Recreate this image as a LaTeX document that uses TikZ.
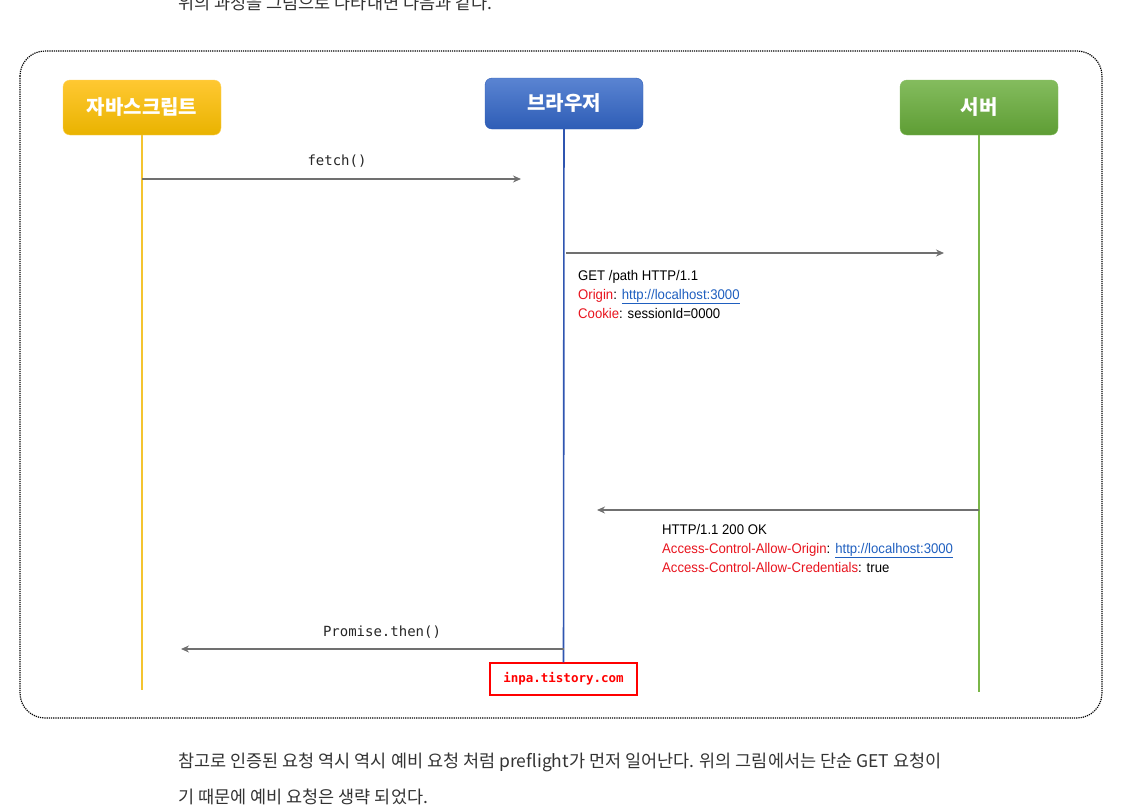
\documentclass[tikz,border=0pt]{standalone}
\usepackage{fontspec}
\setmainfont{Noto Sans CJK KR}
\setmonofont{DejaVu Sans Mono}
\newfontfamily\krfont{Noto Sans CJK KR}
\newfontfamily\labelfont{Liberation Sans}[FakeStretch=0.94]
\usepackage{tikz}
\usetikzlibrary{positioning, calc, arrows.meta}

\definecolor{jsTop}{HTML}{FFC832}
\definecolor{jsBot}{HTML}{E9B300}
\definecolor{brTop}{HTML}{5A84D2}
\definecolor{brBot}{HTML}{2E5DB6}
\definecolor{svTop}{HTML}{84BC5E}
\definecolor{svBot}{HTML}{5E9D34}
\definecolor{jsLine}{HTML}{F4C430}
\definecolor{brLine}{HTML}{2F55B0}
\definecolor{svLine}{HTML}{7AB648}
\definecolor{arrowgray}{HTML}{707070}
\definecolor{hdrred}{HTML}{E8141E}
\definecolor{linkblue}{HTML}{1F5FBF}
\definecolor{bodytext}{HTML}{333333}

\newcommand{\hname}[1]{\textcolor{hdrred}{#1}}
\newcommand{\hlink}[1]{\textcolor{linkblue}{\underline{#1}}}

\begin{document}
\begin{tikzpicture}[x=1pt, y=-1pt,
        actor/.style={rectangle, rounded corners=7pt, minimum width=158pt, minimum height=55pt, text=white, font=\fontsize{20}{24}\selectfont\bfseries},
        life/.style={line width=1.6pt},
        msg/.style={->, >={Stealth[length=8pt, width=7pt]}, draw=arrowgray, line width=1.6pt},
        codelabel/.style={font=\ttfamily\fontsize{14}{16}\selectfont, text=black!85},
        hdr/.style={font=\labelfont\fontsize{14}{19}\selectfont, align=left, anchor=north west, inner sep=0pt},
        para/.style={font=\krfont\fontsize{17.5}{20}\selectfont, text=bodytext, anchor=west, inner sep=0pt}
    ]
        \useasboundingbox (0,0) rectangle (1144,807);

        % Text around the figure
        \node[para] (intro) at (178,3) {위의 과정을 그림으로 나타내면 다음과 같다.};
        \node[para] (note1) at (178,762) {참고로 인증된 요청 역시 역시 예비 요청 처럼 preflight가 먼저 일어난다. 위의 그림에서는 단순 GET 요청이};
        \node[para] (note2) at (178,797) {기 때문에 예비 요청은 생략 되었다.};

        % Frame
        \draw[densely dotted, line width=1.2pt, rounded corners=25pt] (20,51) rectangle (1102,718);

        % Actors
        \node[actor, top color=jsTop, bottom color=jsBot, draw=jsTop!80] (js) at (142,107.5) {자바스크립트};
        \node[actor, top color=brTop, bottom color=brBot, draw=brBot, minimum height=51pt] (browser) at (564,103.5) {브라우저};
        \node[actor, top color=svTop, bottom color=svBot, draw=svTop] (server) at (979,107.5) {서버};

        % Watermark
        \node[draw=red, line width=1.5pt, minimum width=147pt, minimum height=32pt, text=red, font=\ttfamily\bfseries\fontsize{12.5}{14}\selectfont] (mark) at (563.5,679) {inpa.tistory.com};

        % Lifelines
        \coordinate (js-end) at (142,690);
        \coordinate (server-end) at (979,692);
        \draw[life, draw=jsLine] (js) -- (js-end);
        \draw[life, draw=brLine] (browser) -- (mark);
        \draw[life, draw=svLine] (server) -- (server-end);

        % Messages
        \coordinate (fetch-from) at (142,179);
        \coordinate (fetch-to) at (521,179);
        \draw[msg] (fetch-from) -- (fetch-to);
        \node[codelabel] (fetch-label) at (337,161) {fetch()};

        \coordinate (req-from) at (566,253);
        \coordinate (req-to) at (944,253);
        \draw[msg] (req-from) -- (req-to);
        \node[hdr] (req-label) at (578,270) {GET /path HTTP/1.1\\
            \hname{Origin}: \hlink{http://localhost:3000}\\
            \hname{Cookie}: sessionId=0000};

        \coordinate (res-from) at (979,510);
        \coordinate (res-to) at (597,510);
        \draw[msg] (res-from) -- (res-to);
        \node[hdr] (res-label) at (662,524) {HTTP/1.1 200 OK\\
            \hname{Access-Control-Allow-Origin}: \hlink{http://localhost:3000}\\
            \hname{Access-Control-Allow-Credentials}: true};

        \coordinate (then-from) at (564,649);
        \coordinate (then-to) at (181,649);
        \draw[msg] (then-from) -- (then-to);
        \node[codelabel] (then-label) at (382,632) {Promise.then()};
    \end{tikzpicture}
\end{document}
